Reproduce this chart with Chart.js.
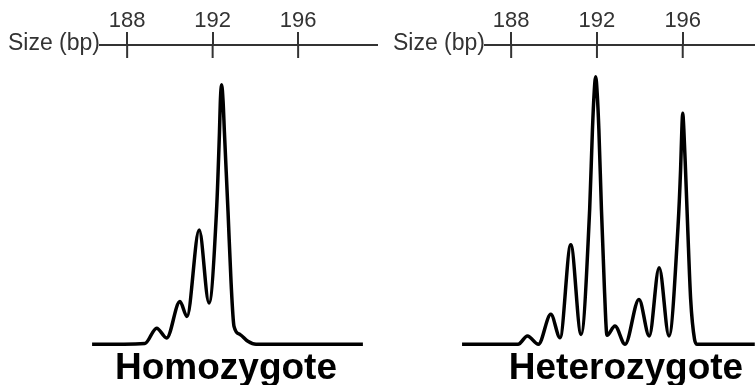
<!DOCTYPE html>
<html>
<head>
<meta charset="utf-8">
<script src="https://cdn.jsdelivr.net/npm/chart.js@4.4.1/dist/chart.umd.min.js"></script>
<style>
  body { margin: 0; background: #fff; overflow: hidden; }
  #wrap { position: relative; width: 755px; height: 385px; overflow: hidden; }
  canvas { position: absolute; top: 0; }
</style>
</head>
<body>
<div id="wrap">
  <canvas id="homo" width="452" height="385" style="left:0"></canvas>
  <canvas id="hetero" width="492" height="385" style="left:380px"></canvas>
</div>
<script>
// tick labels on the size axis
const sizeTicks = [188, 192, 196];

// homozygote trace: size (bp) and signal (relative units)
const homoSize   = [186.36, 188.83, 189.38, 189.85, 190.47, 190.80, 191.37, 191.83, 192.18, 192.32, 192.36, 192.42, 192.49, 192.55, 192.72, 192.86, 193.00, 193.28, 193.65, 194.03, 199.03];
const homoSignal = [0, 0.3, 5.4, 2.1, 14.3, 9.3, 38.2, 13.8, 44.3, 71.0, 81.0, 86.7, 81.0, 71.0, 44.3, 21.0, 6.0, 3.3, 1.0, 0, 0];

// heterozygote trace
const heteroSize   = [185.71, 188.32, 188.76, 189.27, 189.85, 190.28, 190.78, 191.26, 191.66, 191.79, 191.87, 191.94, 192.01, 192.09, 192.21, 192.35, 192.47, 192.84, 193.31, 193.96, 194.44, 194.90, 195.36, 195.78, 195.90, 195.96, 196.00, 196.05, 196.13, 196.23, 196.37, 196.55, 196.67, 199.36];
const heteroSignal = [0, 0, 2.8, 0, 10.0, 2.2, 33.3, 3.3, 45.0, 71.7, 84.0, 89.4, 84.0, 71.7, 45.0, 18.3, 3.0, 6.1, 0, 15.0, 2.8, 25.6, 2.8, 39.3, 58.3, 72.0, 77.2, 72.0, 58.3, 39.3, 15.0, 1.7, 0, 0];

const FONT = '"Liberation Sans", Arial, sans-serif';

// tick marks below the axis line and the "Size (bp)" label
const axisExtras = {
  id: 'axisExtras',
  afterDraw(chart) {
    const ctx = chart.ctx;
    const x = chart.scales.x;
    const top = chart.chartArea.top;
    ctx.save();
    ctx.strokeStyle = '#333';
    ctx.lineWidth = 2;
    sizeTicks.forEach(v => {
      const px = x.getPixelForValue(v);
      ctx.beginPath();
      ctx.moveTo(px, top);
      ctx.lineTo(px, top + 13);
      ctx.stroke();
    });
    ctx.fillStyle = '#333';
    ctx.font = '23px ' + FONT;
    ctx.textAlign = 'right';
    ctx.textBaseline = 'middle';
    ctx.fillText('Size (bp)', x.left, top - 1);
    ctx.restore();
  }
};

// empty side axes just reserve room, so the title stays centred on the canvas
function spacer(pos, w) {
  return {
    position: pos, min: -1.3, max: 100,
    grid: { display: false }, border: { display: false }, ticks: { display: false },
    afterFit: s => { s.width = w; }
  };
}

function makeChart(id, sizes, signal, name, min, max, padLeft, padRight) {
  return new Chart(document.getElementById(id), {
    type: 'line',
    data: {
      datasets: [{
        data: sizes.map((s, i) => ({ x: s, y: signal[i] })),
        yAxisID: 'y',
        borderColor: '#000',
        borderWidth: 3.5,
        pointRadius: 0,
        cubicInterpolationMode: 'monotone',
        fill: false,
        clip: false
      }]
    },
    options: {
      responsive: false,
      animation: false,
      devicePixelRatio: 1,
      layout: { padding: { left: 0, right: 0, top: 10, bottom: 0 } },
      plugins: {
        legend: { display: false },
        tooltip: { enabled: false },
        title: {
          display: true,
          position: 'bottom',
          text: name,
          color: '#000',
          padding: { top: 5, bottom: 0 },
          font: { family: FONT, size: 37, weight: 'bold', lineHeight: 0.86 }
        }
      },
      scales: {
        x: {
          type: 'linear',
          position: 'top',
          min: min,
          max: max,
          afterBuildTicks: scale => { scale.ticks = sizeTicks.map(v => ({ value: v })); },
          grid: { drawOnChartArea: false, tickLength: 13, color: '#333', lineWidth: 2 },
          border: { color: '#333', width: 2 },
          ticks: { color: '#333', padding: 0, font: { family: FONT, size: 22, lineHeight: 1 } }
        },
        y: spacer('left', padLeft),
        yr: spacer('right', padRight)
      }
    },
    plugins: [axisExtras]
  });
}

makeChart('homo', homoSize, homoSignal, 'Homozygote', 186.73, 199.69, 100, 75);
makeChart('hetero', heteroSize, heteroSignal, 'Heterozygote', 186.78, 199.37, 105, 117);
</script>
</body>
</html>
